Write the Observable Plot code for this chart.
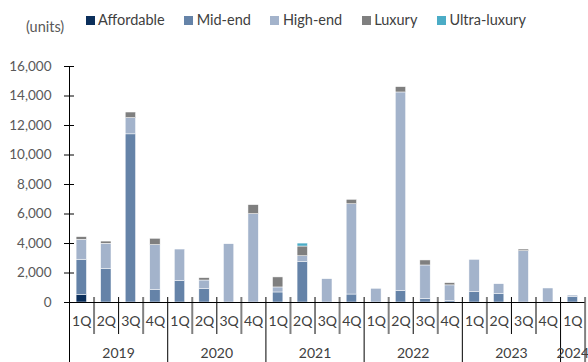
<!DOCTYPE html>
<html><head><meta charset="utf-8">
<script src="https://cdn.jsdelivr.net/npm/d3@7"></script>
<script src="https://cdn.jsdelivr.net/npm/@observablehq/plot@0.6"></script>
<style>
body{margin:0;background:#fff;font-family:Lato,sans-serif;}
#wrap{position:relative;width:588px;height:362px;overflow:hidden;}
#wrap svg{position:absolute;left:0;top:0;}
#units{position:absolute;left:26px;top:19px;font-size:14.5px;line-height:16px;color:#595959;}
#legend{position:absolute;left:85.5px;top:12px;display:flex;gap:19.5px;font-size:14.5px;line-height:16px;color:#404040;z-index:2;}
.item{display:flex;align-items:center;gap:3.5px;}
.sw{width:9px;height:9px;display:inline-block;}
</style>
</head><body>
<div id="wrap"><div id="units">(units)</div><div id="legend"></div></div>
<script>
const periods = ["1Q","2Q","3Q","4Q","1Q","2Q","3Q","4Q","1Q","2Q","3Q","4Q","1Q","2Q","3Q","4Q","1Q","2Q","3Q","4Q","1Q"];
const years   = ["2019","2019","2019","2019","2020","2020","2020","2020","2021","2021","2021","2021","2022","2022","2022","2022","2023","2023","2023","2023","2024"];
const categories = ["Affordable","Mid-end","High-end","Luxury","Ultra-luxury"];
const colors = ["#0b2f5b","#6583a8","#a3b3cb","#7f7f7f","#4bacc6"];
const affordable  = [500,0,0,0, 0,0,0,0, 0,0,0,0, 0,0,0,0, 0,0,0,0, 0];
const midEnd      = [2400,2260,11400,840, 1450,900,0,0, 680,2735,0,540, 0,770,230,90, 700,565,0,0, 360];
const highEnd     = [1350,1720,1100,3050, 2140,590,3950,5990, 340,400,1580,6120, 930,13470,2280,1070, 2190,675,3480,950, 110];
const luxury      = [180,150,380,430, 0,160,0,610, 680,660,0,300, 0,360,340,150, 0,0,110,0, 0];
const ultraLuxury = [0,0,0,0, 0,0,0,0, 0,200,0,0, 0,0,0,0, 0,0,0,0, 0];
const yTicks = [0,2000,4000,6000,8000,10000,12000,14000,16000];

const series = [affordable, midEnd, highEnd, luxury, ultraLuxury];
const rows = [];
periods.forEach((p, i) => series.forEach((s, j) => rows.push({i, category: categories[j], value: s[i]})));

const n = periods.length;
const bounds = d3.range(1, n + 1);
const yearBounds = bounds.filter(k => k < n && years[k] !== years[k - 1]);
const endBound = [n];
const inner = bounds.filter(k => k < n && years[k] === years[k - 1]);
const innerBlack = inner.filter(k => k % 2 === 0);
const innerGray = inner.filter(k => k % 2 === 1);
const yearLabels = Array.from(new Set(years)).map(y => {
  const idx = years.map((v, i) => v === y ? i : -1).filter(i => i >= 0);
  return {year: y, center: idx[0] + idx.length / 2};
});
const fmt = d3.format(",");

const chart = Plot.plot({
  width: 588, height: 362,
  marginLeft: 69, marginRight: 3.4, marginTop: 66, marginBottom: 60,
  style: {fontFamily: "Lato, sans-serif", fontSize: "13px", color: "#595959", background: "transparent", overflow: "visible"},
  x: {domain: [0, n], axis: null},
  y: {domain: [0, 16000], axis: null},
  color: {domain: categories, range: colors},
  marks: [
    Plot.rectY(rows, {x1: "i", x2: d => d.i + 1, y: "value", fill: "category", insetLeft: 7.1, insetRight: 7.1, stroke: "white", strokeWidth: 0.5}),
    Plot.ruleX(innerGray, {x: d => d, stroke: "#808080", strokeWidth: 2, insetTop: 231, insetBottom: -32}),
    Plot.ruleX(innerBlack, {x: d => d, stroke: "#000", strokeWidth: 1, insetTop: 231, insetBottom: -32}),
    Plot.ruleX(yearBounds, {x: d => d, stroke: "#000", strokeWidth: 1, insetTop: 231, insetBottom: -60}),
    Plot.ruleX(endBound, {x: d => d, stroke: "#808080", strokeWidth: 2, insetTop: 231, insetBottom: -60}),
    Plot.ruleX([0], {x: d => d, stroke: "#000", strokeWidth: 1, insetBottom: -60}),
    Plot.ruleY([0], {y: d => d, stroke: "#000", strokeWidth: 1, insetLeft: -5}),
    Plot.axisY(yTicks, {tickSize: 10, dx: 5, tickFormat: () => "", label: null, stroke: "#000"}),
    Plot.text(yTicks, {y: d => d, text: d => fmt(d), frameAnchor: "left", textAnchor: "end", dx: -18, fontSize: 13.5, fill: "#595959"}),
    Plot.text(periods, {x: (d, i) => i + 0.5, text: d => d, frameAnchor: "bottom", dy: 23, fontSize: 14, fill: "#404040"}),
    Plot.text(yearLabels, {x: "center", text: "year", frameAnchor: "bottom", dy: 55, fontSize: 14, fill: "#404040"})
  ]
});
document.getElementById("wrap").appendChild(chart);

const legend = document.getElementById("legend");
categories.forEach((c, i) => {
  const it = document.createElement("div");
  it.className = "item";
  it.innerHTML = `<span class="sw" style="background:${colors[i]}"></span><span>${c}</span>`;
  legend.appendChild(it);
});
</script>
</body></html>
